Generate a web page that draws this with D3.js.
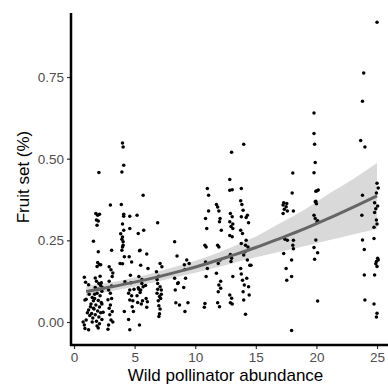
<!DOCTYPE html>
<html>
<head>
<meta charset="utf-8">
<script src="https://cdn.jsdelivr.net/npm/d3@7"></script>
<style>
  html, body { margin: 0; padding: 0; background: #fff; }
  svg { display: block; }
  text { font-family: "Liberation Sans", Arial, sans-serif; }
</style>
</head>
<body>
<svg id="chart" width="388" height="385"></svg>
<script>
// ---- data ----
const xTicks = [0, 5, 10, 15, 20, 25];
const yTicks = [0, 0.25, 0.5, 0.75];
const xTitle = "Wild pollinator abundance";
const yTitle = "Fruit set (%)";

// fitted curve with confidence band
const fitX  = [1, 3, 5, 7, 9, 11, 13, 15, 17, 19, 21, 23, 25];
const fitY  = [0.093, 0.107, 0.122, 0.139, 0.158, 0.179, 0.203, 0.228, 0.256, 0.285, 0.317, 0.351, 0.386];
const fitLo = [0.078, 0.094, 0.109, 0.125, 0.142, 0.160, 0.179, 0.198, 0.215, 0.232, 0.250, 0.268, 0.285];
const fitHi = [0.112, 0.121, 0.136, 0.155, 0.176, 0.200, 0.229, 0.262, 0.302, 0.344, 0.392, 0.437, 0.487];

// observations [abundance (jittered), fruit set]
const observations = [
  [0.85,0.137],[0.95,0.122],[1.2,0.114],[1.0,0.07],[1.4,0.055],[1.2,0.037],[1.3,0.02],[1.0,0.006],[0.85,-0.009],[0.9,-0.02],[1.2,-0.024],[1.5,0.0],[1.55,0.012],[1.45,0.026],[1.6,0.042],[1.35,0.047],[1.5,0.075],[1.1,0.028],[0.75,0.0],[0.9,0.067],[1.25,0.085],
  [2.05,0.458],[1.8,0.332],[1.95,0.327],[2.1,0.33],[1.85,0.312],[2.0,0.309],[1.9,0.296],[1.6,0.247],[2.0,0.215],[1.95,0.182],[2.1,0.176],[1.9,0.17],[2.2,0.175],[1.85,0.125],[2.05,0.118],[2.2,0.112],[1.75,0.106],[2.0,0.1],[2.3,0.094],[1.9,0.088],[2.15,0.08],[1.7,0.072],[2.0,0.066],[2.25,0.06],[1.8,0.052],[2.1,0.046],[1.65,0.04],[1.95,0.034],[2.2,0.028],[1.75,0.022],[2.05,0.015],[2.3,0.008],[1.85,0.002],[2.1,-0.005],[1.9,-0.012],[2.0,-0.018],[2.3,0.055],[1.7,0.085],[2.35,0.105],[2.25,0.12],[1.6,0.065],[2.4,0.03],[1.75,0.135],[2.15,0.14],
  [3.0,0.358],[3.1,0.22],[2.9,0.169],[3.05,0.16],[3.2,0.15],[3.15,0.139],[2.85,0.098],[3.0,0.088],[3.1,0.072],[2.8,0.068],[3.0,0.052],[2.9,0.042],[3.15,0.032],[2.95,0.022],[3.05,0.006],[2.85,-0.009],[2.8,-0.022],[3.1,0.11],[2.9,0.125],[3.2,0.0],
  [4.0,0.548],[4.05,0.536],[4.1,0.48],[3.95,0.459],[3.9,0.36],[4.1,0.324],[4.0,0.3],[4.1,0.281],[3.95,0.253],[4.05,0.246],[4.0,0.23],[3.95,0.22],[4.15,0.2],[3.8,0.179],[4.0,0.178],[4.2,0.123],[4.15,0.032],[4.0,0.26],[3.85,0.27],[4.1,0.33],[4.05,0.235],
  [4.6,0.324],[4.6,0.286],[4.55,0.2],[4.75,0.184],[4.65,0.143],[4.6,0.098],[4.5,0.088],[4.75,0.08],[4.6,0.067],[4.8,0.047],[4.5,0.008],[4.6,-0.024],[4.9,0.032],[4.95,0.1],[4.7,0.12],[4.85,0.065],
  [5.2,0.327],[5.3,0.271],[5.7,0.388],[5.75,0.281],[5.4,0.218],[5.5,0.174],[5.35,0.139],[5.6,0.118],[5.7,0.108],[5.35,0.1],[5.45,0.09],[5.25,0.06],[5.55,0.055],[5.4,-0.009],[5.6,0.13],[5.3,0.105],[5.45,0.22],[5.65,0.065],[5.5,0.098],[5.2,0.08],
  [6.0,0.208],[6.1,0.164],[5.95,0.072],[6.05,0.062],[6.0,0.045],[5.9,0.112],
  [6.9,0.304],[7.1,0.179],[7.25,0.169],[6.8,0.154],[7.0,0.14],[6.9,0.118],[7.1,0.108],[7.2,0.098],[6.85,0.088],[7.05,0.078],[7.15,0.072],[6.95,0.065],[7.0,0.05],[7.1,0.04],[7.05,0.025],[7.0,0.017],[7.2,0.085],[6.9,0.1],[6.85,0.13],
  [8.3,0.246],[8.5,0.202],[8.3,0.134],[8.55,0.118],[8.35,0.098],[8.4,0.059],[8.7,0.052],[8.6,0.12],
  [9.3,0.19],[9.5,0.179],[9.15,0.161],[9.2,0.134],[9.05,0.106],[9.4,0.059],[9.15,0.032],[9.1,0.175],
  [11.0,0.409],[11.1,0.388],[11.1,0.34],[10.85,0.317],[10.95,0.286],[10.8,0.235],[10.9,0.23],[10.85,0.184],[11.0,0.164],[10.9,0.139],[10.8,0.057],[10.75,0.045],
  [11.75,0.36],[11.85,0.352],[11.95,0.34],[12.05,0.317],[12.0,0.307],[12.15,0.281],[11.85,0.235],[11.95,0.23],[11.9,0.179],[11.75,0.149],[11.95,0.113],[12.1,0.103],[11.9,0.093],[11.85,0.059],[12.0,0.047],[12.05,0.19],[12.1,0.125],
  [13.0,0.52],[12.85,0.436],[12.85,0.403],[13.05,0.405],[12.9,0.332],[13.05,0.322],[12.85,0.307],[12.95,0.292],[13.1,0.286],[12.85,0.265],[13.05,0.261],[12.9,0.207],[13.0,0.195],[13.1,0.139],[12.85,0.083],[13.0,0.073],[12.9,0.059],[13.05,0.055],[13.1,0.3],[12.95,0.185],
  [14.0,0.544],[13.8,0.409],[13.75,0.371],[13.85,0.36],[13.95,0.342],[13.8,0.322],[14.3,0.327],[14.4,0.304],[13.75,0.281],[13.9,0.271],[13.8,0.24],[14.15,0.235],[14.35,0.23],[14.0,0.205],[13.75,0.164],[13.8,0.147],[13.9,0.128],[14.4,0.108],[14.25,0.134],[14.05,0.113],[13.95,0.093],[14.0,0.067],[14.15,0.024],[14.45,0.083],[14.6,0.174],[14.5,0.174],[14.2,0.25],[14.3,0.19],[14.2,0.32],[14.1,0.215],
  [17.3,0.365],[17.55,0.363],[17.25,0.358],[17.5,0.353],[17.35,0.345],[17.25,0.332],[17.4,0.253],[17.6,0.25],[17.3,0.21],[17.5,0.164],[17.55,0.128],[17.6,0.34],
  [18.05,0.456],[18.0,0.395],[18.1,0.34],[18.1,0.25],[18.05,0.235],[17.95,0.19],[17.95,0.139],[17.95,-0.026],[18.1,0.224],
  [19.8,0.64],[19.8,0.577],[19.85,0.544],[19.9,0.488],[19.8,0.457],[19.95,0.4],[20.05,0.402],[20.15,0.404],[19.9,0.368],[20.0,0.362],[19.8,0.327],[19.9,0.317],[20.05,0.307],[19.95,0.251],[19.8,0.228],[19.85,0.192],[20.1,0.212],[20.1,0.064],[19.95,0.37],[20.1,0.31],
  [23.9,0.762],[23.8,0.676],[23.65,0.556],[24.0,0.536],[23.8,0.388],[23.75,0.327],[23.8,0.251],[23.95,0.222],[23.95,0.144],[24.0,0.067],
  [25.0,0.918],[25.0,0.425],[25.1,0.41],[24.95,0.395],[24.8,0.365],[24.9,0.347],[24.8,0.335],[24.95,0.312],[24.75,0.29],[25.0,0.3],[24.75,0.256],[25.1,0.19],[24.95,0.185],[24.9,0.178],[25.0,0.17],[24.8,0.144],[24.75,0.055],[25.0,0.027],[24.95,0.015],[25.05,0.355],[25.05,0.195]
];

// ---- layout ----
const svg = d3.select("#chart");
const padL = 71, padT = 13, axisY = 345;

const x = d3.scaleLinear().domain([-0.25, 25.9]).range([padL, padL + 26.15 * 12.12]);
const y = d3.scaleLinear().domain([-0.0704, 0.946]).range([axisY, padT]);

// confidence band
const band = fitX.map((v, i) => ({x: v, lo: fitLo[i], hi: fitHi[i], y: fitY[i]}));
svg.append("path")
  .datum(band)
  .attr("fill", "#d9d9d9")
  .attr("d", d3.area().curve(d3.curveMonotoneX)
    .x(d => x(d.x)).y0(d => y(d.lo)).y1(d => y(d.hi)));

// points
svg.append("g").selectAll("circle")
  .data(observations)
  .join("circle")
  .attr("cx", d => x(d[0]))
  .attr("cy", d => y(d[1]))
  .attr("r", 1.75)
  .attr("fill", "#000");

// fitted line
svg.append("path")
  .datum(band)
  .attr("fill", "none")
  .attr("stroke", "#666666")
  .attr("stroke-width", 3)
  .attr("d", d3.line().curve(d3.curveMonotoneX).x(d => x(d.x)).y(d => y(d.y)));

// axes
const xAxis = svg.append("g")
  .attr("transform", `translate(0,${axisY})`)
  .call(d3.axisBottom(x).tickValues(xTicks).tickSize(4).tickPadding(3).tickFormat(d3.format("d")));
const yAxis = svg.append("g")
  .attr("transform", `translate(${padL},0)`)
  .call(d3.axisLeft(y).tickValues(yTicks).tickSize(4).tickPadding(3).tickFormat(d3.format(".2f")));

[xAxis, yAxis].forEach(g => {
  g.select(".domain").remove();
  g.selectAll(".tick line").attr("stroke", "#333").attr("stroke-width", 1.2);
  g.selectAll(".tick text").attr("fill", "#4d4d4d").style("font-size", "13.5px")
    .style("font-family", "'Liberation Sans', Arial, sans-serif");
});

// axis lines
svg.append("line").attr("x1", padL).attr("x2", padL).attr("y1", padT).attr("y2", axisY + 1)
  .attr("stroke", "#000").attr("stroke-width", 2.5);
svg.append("line").attr("x1", padL - 1).attr("x2", 388).attr("y1", axisY).attr("y2", axisY)
  .attr("stroke", "#000").attr("stroke-width", 2.5);

// titles
svg.append("text")
  .attr("x", (x(0) + x(25)) / 2).attr("y", 381)
  .attr("text-anchor", "middle")
  .style("font-size", "17px").attr("fill", "#000")
  .text(xTitle);
svg.append("text")
  .attr("transform", `translate(29,${177}) rotate(-90)`)
  .attr("text-anchor", "middle")
  .style("font-size", "17px").attr("fill", "#000")
  .text(yTitle);
</script>
</body>
</html>
